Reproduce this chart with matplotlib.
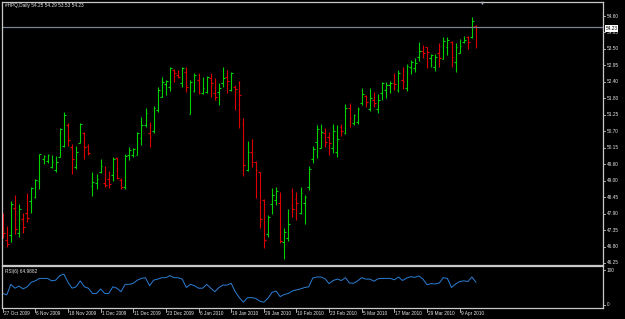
import matplotlib
matplotlib.use('Agg')
import matplotlib.pyplot as plt
import numpy as np

W, H = 625, 319

title = '#HPQ,Daily 54.25 54.29 53.53 54.23'
rsi_title = 'RSI(6) 64.9882'
last_price = 54.23

# daily OHLC, 27 Oct 2009 .. mid Apr 2010
opens = [47.84, 47.03, 47.20, 48.11, 47.26, 47.74, 47.94, 48.35, 48.48, 49.02,
         49.77, 49.70, 49.50, 49.39, 49.83, 50.21, 50.92, 50.17, 49.50, 50.31,
         50.64, 50.21, 48.85, 48.95, 49.33, 48.95, 49.09, 49.22, 49.80, 49.06,
         48.82, 49.90, 49.90, 49.90, 50.48, 50.92, 50.64, 50.71, 51.42, 51.86,
         52.30, 52.20, 52.77, 52.61, 52.34, 52.71, 51.29, 52.06, 52.44, 52.00,
         52.03, 52.50, 52.00, 52.03, 52.34, 52.54, 52.10, 52.20, 52.37, 50.95,
         49.39, 50.00, 49.66, 49.33, 48.38, 47.23, 48.24, 48.38, 48.28, 46.96,
         47.10, 48.21, 48.41, 47.94, 48.28, 48.82, 49.77, 50.34, 50.14, 50.64,
         50.51, 50.14, 50.00, 50.85, 50.64, 51.49, 50.98, 51.02, 51.66, 51.90,
         51.46, 51.76, 51.46, 52.00, 52.10, 52.27, 52.34, 52.10, 52.44, 52.17,
         52.88, 52.84, 53.21, 53.42, 53.55, 53.18, 52.88, 53.35, 53.15, 53.55,
         53.72, 53.04, 53.35, 53.72, 53.89, 53.89, 54.25]
highs = [47.94, 47.50, 48.35, 48.55, 48.24, 47.94, 48.62, 48.82, 49.09, 49.93,
         49.90, 49.93, 49.90, 49.87, 50.81, 51.35, 50.98, 50.27, 50.21, 50.98,
         50.68, 50.27, 49.33, 49.26, 49.77, 49.53, 49.36, 49.83, 49.83, 49.12,
         49.93, 50.17, 50.14, 50.68, 51.19, 51.49, 51.02, 51.56, 52.20, 52.54,
         52.44, 52.88, 52.81, 52.77, 52.88, 52.88, 52.44, 52.67, 52.67, 52.54,
         52.57, 52.67, 52.50, 52.34, 52.88, 52.77, 52.71, 52.27, 52.40, 51.15,
         50.37, 50.44, 49.70, 49.33, 48.41, 47.87, 48.79, 48.82, 48.65, 47.43,
         48.08, 48.79, 48.65, 48.82, 48.55, 49.53, 50.21, 50.92, 50.95, 50.81,
         50.68, 50.95, 50.92, 50.95, 51.63, 51.66, 51.29, 51.52, 52.17, 51.93,
         52.17, 52.03, 51.96, 52.37, 52.37, 52.40, 52.67, 52.77, 52.88, 52.98,
         53.11, 53.18, 53.72, 53.62, 53.55, 53.32, 53.32, 53.69, 53.89, 53.89,
         53.75, 53.69, 53.82, 53.92, 53.92, 54.57, 54.29]
lows = [47.10, 46.79, 46.96, 47.23, 47.13, 47.26, 47.64, 47.94, 48.45, 48.75,
        49.60, 49.63, 49.46, 49.33, 49.83, 50.17, 50.21, 49.26, 49.43, 50.31,
        49.77, 49.90, 48.51, 48.75, 49.29, 48.82, 48.79, 49.02, 49.09, 48.75,
        48.75, 49.73, 49.83, 49.90, 50.24, 50.85, 50.17, 50.64, 51.35, 51.86,
        51.93, 52.06, 52.37, 52.50, 52.20, 52.03, 51.29, 52.03, 51.96, 51.96,
        52.00, 51.86, 51.76, 51.59, 52.20, 52.00, 52.06, 51.42, 50.81, 49.19,
        49.36, 49.50, 48.45, 47.43, 46.76, 47.13, 47.91, 48.21, 46.93, 46.39,
        46.99, 47.80, 47.70, 47.91, 47.57, 48.72, 49.63, 49.80, 50.14, 50.17,
        49.90, 49.97, 49.83, 50.54, 50.61, 50.85, 50.92, 50.95, 51.59, 51.52,
        51.39, 51.52, 51.32, 51.76, 51.83, 52.00, 52.10, 52.03, 52.13, 52.06,
        52.64, 52.71, 53.08, 53.18, 52.84, 52.88, 52.74, 52.88, 53.15, 53.28,
        52.88, 52.71, 53.35, 53.69, 53.48, 53.86, 53.53]
closes = [47.26, 46.89, 48.24, 47.40, 48.08, 47.46, 47.77, 48.79, 49.06, 49.93,
          49.87, 49.90, 49.66, 49.66, 50.78, 51.25, 50.41, 49.77, 50.00, 50.95,
          50.17, 49.97, 48.99, 49.09, 49.53, 48.89, 48.92, 49.77, 49.12, 48.82,
          49.87, 50.07, 50.10, 50.64, 50.92, 51.32, 50.51, 51.49, 52.10, 52.37,
          52.40, 52.84, 52.67, 52.54, 52.84, 52.20, 52.37, 52.61, 52.00, 52.17,
          52.54, 52.34, 51.86, 52.17, 52.50, 52.40, 52.67, 52.13, 51.93, 49.56,
          50.00, 49.66, 49.39, 47.74, 47.03, 47.80, 48.55, 48.68, 46.99, 47.29,
          47.57, 48.08, 48.28, 48.62, 48.48, 49.43, 50.10, 50.78, 50.68, 50.34,
          50.31, 50.71, 50.44, 50.71, 51.49, 51.15, 51.25, 51.46, 51.96, 51.69,
          51.83, 51.66, 51.76, 52.34, 52.27, 52.34, 52.30, 52.67, 52.40, 52.91,
          53.04, 53.01, 53.42, 53.35, 53.38, 53.28, 53.21, 53.18, 53.75, 53.79,
          53.21, 53.55, 53.59, 53.79, 53.72, 54.43, 54.23]
rsi = [33, 29, 59, 48, 54, 46, 52, 65, 69, 76,
       76, 76, 69, 71, 84, 88, 65, 48, 52, 69,
       52, 48, 33, 33, 46, 33, 33, 52, 48, 38,
       59, 59, 62, 71, 76, 78, 55, 71, 74, 78,
       78, 84, 78, 78, 74, 50, 59, 55, 48, 48,
       59, 48, 38, 50, 57, 57, 62, 38, 21, 8,
       21, 21, 19, 11, 8, 19, 36, 40, 24, 30,
       33, 40, 43, 46, 50, 52, 77, 80, 80, 75,
       61, 70, 74, 70, 78, 63, 62, 69, 78, 74,
       74, 68, 75, 76, 76, 76, 72, 80, 70, 77,
       81, 79, 83, 74, 58, 61, 60, 63, 78, 76,
       50, 60, 67, 69, 67, 80, 65]

date_labels = ['27 Oct 2009', '6 Nov 2009', '18 Nov 2009', '1 Dec 2009', '11 Dec 2009',
               '23 Dec 2009', '6 Jan 2010', '19 Jan 2010', '29 Jan 2010', '10 Feb 2010',
               '23 Feb 2010', '5 Mar 2010', '17 Mar 2010', '29 Mar 2010', '9 Apr 2010']
date_bars = [0, 8, 16, 24, 32, 40, 48, 56, 64, 72, 80, 88, 96, 104, 112]
price_labels = ['54.60', '54.05', '53.50', '52.95', '52.40', '51.80', '51.25', '50.70',
                '50.15', '49.60', '49.00', '48.45', '47.90', '47.35', '46.80', '46.25']

FG = '#c8c8c8'
TXT = '#e6e6e6'
UP = '#00d200'
DOWN = '#dc0000'
FONT = 'Liberation Sans'
FS = 3.4


def fx(px):
    return px / W


def fy(py):
    return 1 - py / H


fig = plt.figure(figsize=(W / 100, H / 100), dpi=100, facecolor='black')

# price panel: pixels x 2..603, y 2..265
ax = fig.add_axes([fx(2), fy(265), fx(601), (265 - 2) / H], facecolor='black')
# rsi panel: pixels y 266..308
ax2 = fig.add_axes([fx(2), fy(308), fx(601), (308 - 266) / H], facecolor='black')

x = np.arange(len(opens))
o, h, l, c = map(np.array, (opens, highs, lows, closes))
cols = np.where(c >= o, UP, DOWN)
ax.vlines(x, l, h, colors=cols, lw=0.8)
ax.hlines(o, x - 0.45, x, colors=cols, lw=0.8)
ax.hlines(c, x, x + 0.45, colors=cols, lw=0.8)

px_per_bar = 4.08
x_lo = (2 - 2.7) / px_per_bar
x_hi = (603 - 2.7) / px_per_bar
ax.set_xlim(x_lo, x_hi)
ax.set_ylim(46.182, 55.073)
ax.axhline(last_price, color='#7c8494', lw=0.9)

ax2.plot(x, rsi, color='#2a7fd6', lw=0.7)
ax2.set_xlim(x_lo, x_hi)
ax2.set_ylim((305 - 308) / 0.35, (305 - 266) / 0.35)

for a in (ax, ax2):
    a.set_xticks([])
    a.set_yticks([])
    for s in a.spines.values():
        s.set_color(FG)
        s.set_linewidth(0.9)

# price scale on the right
for py, lab in zip(np.linspace(16, 263, len(price_labels)), price_labels):
    fig.add_artist(plt.Line2D([fx(603), fx(605)], [fy(py), fy(py)], color=FG, lw=0.6))
    fig.text(fx(606.5), fy(py), lab, color=TXT, fontsize=FS, family=FONT, va='center')
fig.text(fx(605.5), fy(28.3), f'{last_price:.2f}', color='black', fontsize=FS, family=FONT,
         va='center', bbox=dict(boxstyle='square,pad=0.15', fc='white', ec='none'))

for py, lab in ((270, '100'), (304.5, '0')):
    fig.add_artist(plt.Line2D([fx(603), fx(605)], [fy(py), fy(py)], color=FG, lw=0.6))
    fig.text(fx(606.5), fy(py), lab, color=TXT, fontsize=FS, family=FONT, va='center')

# time scale
for b, lab in zip(date_bars, date_labels):
    px = 2.7 + b * px_per_bar
    fig.add_artist(plt.Line2D([fx(px), fx(px)], [fy(308), fy(311.5)], color=FG, lw=0.6))
    fig.text(fx(px + 1.0), fy(313.5), lab, color=TXT, fontsize=FS, family=FONT, va='center')

fig.text(fx(5), fy(5.5), title, color=TXT, fontsize=FS, family=FONT, va='center')
fig.text(fx(5), fy(271), rsi_title, color=TXT, fontsize=FS, family=FONT, va='center')

# chart shift marker
fig.add_artist(plt.Line2D([fx(481.7)], [fy(3)], marker='v', ms=2.5, color='#a8b0c0',
                          mec='none'))

fig.savefig('out.png', dpi=100, facecolor='black')
